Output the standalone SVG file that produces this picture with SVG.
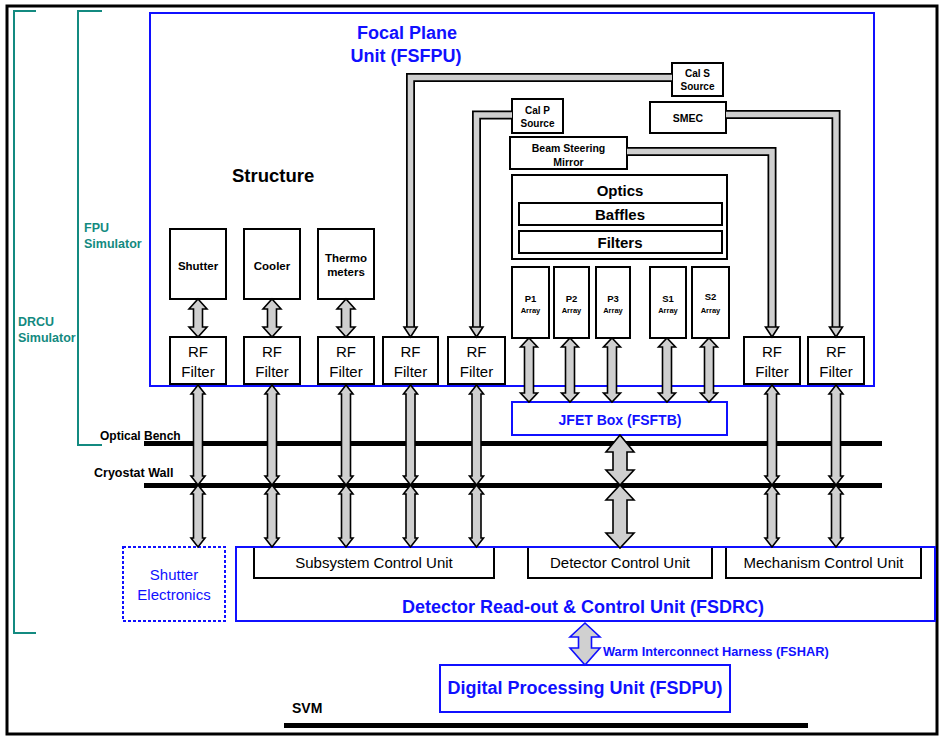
<svg xmlns="http://www.w3.org/2000/svg" xmlns:xlink="http://www.w3.org/1999/xlink" width="944" height="738" viewBox="0 0 944 738">
<style>
text{font-family:"Liberation Sans",Arial,sans-serif;}
.box{fill:#fff;stroke:#000;stroke-width:2;}
.blue{fill:none;stroke:#1010ff;stroke-width:2;}
.bt{fill:#1010ff;font-weight:bold;text-anchor:middle;}
.k{fill:#000;font-weight:bold;text-anchor:middle;}
.n{fill:#000;text-anchor:middle;font-size:15px;}
.teal{fill:none;stroke:#138a80;stroke-width:2;}
.tt{fill:#138a80;font-weight:bold;font-size:12.5px;}
.arr{fill:#cfcfcf;stroke:#000;stroke-width:1.6;stroke-linejoin:miter;}
.po{fill:none;stroke:#000;stroke-width:9;stroke-linejoin:miter;}
.pi{fill:none;stroke:#cfcfcf;stroke-width:5.5;stroke-linejoin:miter;}
.bar{stroke:#000;stroke-width:5;}
</style>
<defs>
<polygon id="aC" class="arr" points="0,299 9,309 4.5,309 4.5,327 9,327 0,337 -9,327 -4.5,327 -4.5,309 -9,309"/>
<polygon id="aA" class="arr" points="0,338 8.5,347 4.5,347 4.5,393 8.5,393 0,402 -8.5,393 -4.5,393 -4.5,347 -8.5,347"/>
<polygon id="aU" class="arr" points="0,385 7,394 4.5,394 4.5,476 7,476 0,485 -7,476 -4.5,476 -4.5,394 -7,394"/>
<polygon id="aL" class="arr" points="0,485 7,494 4.5,494 4.5,538 7,538 0,547 -7,538 -4.5,538 -4.5,494 -7,494"/>
<polygon id="ph" class="arr" points="-6.5,327 6.5,327 0,337"/>
</defs>

<rect x="7" y="6" width="930" height="728" fill="#fff" stroke="#000" stroke-width="3"/>

<g id="brackets">
<path class="teal" d="M36,11 H14 V633 H36"/>
<path class="teal" d="M102,11 H78 V445 H102"/>
<text class="tt" x="84" y="232">FPU</text>
<text class="tt" x="84" y="248">Simulator</text>
<text class="tt" x="18" y="326">DRCU</text>
<text class="tt" x="18" y="342">Simulator</text>
</g>

<g id="walls">
<line class="bar" x1="144" y1="443.5" x2="882" y2="443.5"/>
<line class="bar" x1="144" y1="485.5" x2="882" y2="485.5"/>
<text x="100" y="440" font-size="12" font-weight="bold">Optical Bench</text>
<text x="94" y="477" font-size="12.5" font-weight="bold">Cryostat Wall</text>
<line class="bar" x1="284" y1="725.5" x2="808" y2="725.5"/>
<text x="292" y="713" font-size="14" font-weight="bold">SVM</text>
</g>

<g id="fsfpu">
<text class="bt" x="407" y="39" font-size="18">Focal Plane</text>
<text class="bt" x="406" y="62" font-size="18">Unit (FSFPU)</text>
<text x="232" y="182" font-size="18.5" font-weight="bold">Structure</text>
</g>

<g id="calS"><rect class="box" x="672" y="63" width="51" height="33"/><text class="k" x="697.5" y="77" font-size="10">Cal S</text><text class="k" x="697.5" y="90" font-size="10">Source</text></g>
<g id="smec"><rect class="box" x="650" y="102" width="76" height="31"/><text class="k" x="688" y="122" font-size="10.5">SMEC</text></g>
<g id="calP"><rect class="box" x="512" y="99" width="51" height="34"/><text class="k" x="537.5" y="114" font-size="10">Cal P</text><text class="k" x="537.5" y="127" font-size="10">Source</text></g>
<g id="bsm"><rect class="box" x="510" y="137" width="117" height="32"/><text class="k" x="568.5" y="152" font-size="10.5">Beam Steering</text><text class="k" x="568.5" y="166" font-size="10.5">Mirror</text></g>
<g id="optics"><rect class="box" x="512" y="175" width="215" height="84"/><text class="k" x="620" y="196" font-size="15">Optics</text>
<rect class="box" x="519" y="203" width="203" height="22"/><text class="k" x="620" y="220" font-size="15">Baffles</text>
<rect class="box" x="519" y="231" width="203" height="22"/><text class="k" x="620" y="248" font-size="15">Filters</text></g>

<g id="p1"><rect class="box" x="512" y="267" width="37" height="71"/><text class="k" x="530.5" y="302" font-size="9.5">P1</text><text class="k" x="530.5" y="313" font-size="7.5">Array</text></g>
<g id="p2"><rect class="box" x="554" y="267" width="35" height="71"/><text class="k" x="571.5" y="302" font-size="9.5">P2</text><text class="k" x="571.5" y="313" font-size="7.5">Array</text></g>
<g id="p3"><rect class="box" x="596" y="267" width="34" height="71"/><text class="k" x="613" y="302" font-size="9.5">P3</text><text class="k" x="613" y="313" font-size="7.5">Array</text></g>
<g id="s1"><rect class="box" x="650" y="267" width="36" height="71"/><text class="k" x="668" y="302" font-size="9.5">S1</text><text class="k" x="668" y="313" font-size="7.5">Array</text></g>
<g id="s2"><rect class="box" x="692" y="267" width="37" height="71"/><text class="k" x="710.5" y="300" font-size="9.5">S2</text><text class="k" x="710.5" y="313" font-size="7.5">Array</text></g>

<g id="shutter"><rect class="box" x="170" y="229" width="56" height="70"/><text class="k" x="198" y="270" font-size="11.5">Shutter</text></g>
<g id="cooler"><rect class="box" x="244" y="229" width="56" height="70"/><text class="k" x="272" y="270" font-size="11.5">Cooler</text></g>
<g id="thermo"><rect class="box" x="318" y="229" width="56" height="70"/><text class="k" x="346" y="262" font-size="11.5">Thermo</text><text class="k" x="346" y="276" font-size="11.5">meters</text></g>

<g id="rf1"><rect class="box" x="170" y="337" width="56" height="47"/><text class="n" x="198" y="357">RF</text><text class="n" x="198" y="377">Filter</text></g>
<g id="rf2"><rect class="box" x="244" y="337" width="56" height="47"/><text class="n" x="272" y="357">RF</text><text class="n" x="272" y="377">Filter</text></g>
<g id="rf3"><rect class="box" x="318" y="337" width="56" height="47"/><text class="n" x="346" y="357">RF</text><text class="n" x="346" y="377">Filter</text></g>
<g id="rf4"><rect class="box" x="383" y="337" width="55" height="47"/><text class="n" x="410.5" y="357">RF</text><text class="n" x="410.5" y="377">Filter</text></g>
<g id="rf5"><rect class="box" x="448" y="337" width="57" height="47"/><text class="n" x="476.5" y="357">RF</text><text class="n" x="476.5" y="377">Filter</text></g>
<g id="rf6"><rect class="box" x="744" y="337" width="56" height="47"/><text class="n" x="772" y="357">RF</text><text class="n" x="772" y="377">Filter</text></g>
<g id="rf7"><rect class="box" x="808" y="337" width="56" height="47"/><text class="n" x="836" y="357">RF</text><text class="n" x="836" y="377">Filter</text></g>

<rect id="fsfpuBox" class="blue" x="150" y="13" width="724" height="373"/>

<g id="jfet"><rect class="blue" x="512" y="402" width="215" height="33" fill="#fff"/><text class="bt" x="620" y="425" font-size="14">JFET Box (FSFTB)</text></g>

<g id="shutterElec"><rect x="123" y="547" width="102" height="74" fill="none" stroke="#1010ff" stroke-width="2" stroke-dasharray="3,2"/><text x="174" y="580" fill="#1010ff" font-size="15" text-anchor="middle">Shutter</text><text x="174" y="600" fill="#1010ff" font-size="15" text-anchor="middle">Electronics</text></g>

<g id="fsdrc">
<rect class="box" x="254" y="547" width="240" height="31"/><text class="n" x="374" y="568">Subsystem Control Unit</text>
<rect class="box" x="528" y="547" width="184" height="31"/><text class="n" x="620" y="568">Detector Control Unit</text>
<rect class="box" x="726" y="547" width="195" height="31"/><text class="n" x="823.5" y="568">Mechanism Control Unit</text>
<rect class="blue" x="236" y="547" width="699" height="74"/>
<text class="bt" x="583" y="613" font-size="18">Detector Read-out &amp; Control Unit (FSDRC)</text>
</g>

<g id="fsdpu"><rect class="blue" x="440" y="665" width="290" height="47"/><text class="bt" x="585" y="694" font-size="18">Digital Processing Unit (FSDPU)</text></g>

<g id="connectors">
<path class="po" d="M672,77.5 H410.5 V328"/><path class="pi" d="M672,77.5 H410.5 V328"/>
<path class="po" d="M512,115 H476.5 V328"/><path class="pi" d="M512,115 H476.5 V328"/>
<path class="po" d="M627,151.5 H772 V328"/><path class="pi" d="M627,151.5 H772 V328"/>
<path class="po" d="M726,114.5 H836 V328"/><path class="pi" d="M726,114.5 H836 V328"/>
<use xlink:href="#ph" x="410.5"/><use xlink:href="#ph" x="476.5"/><use xlink:href="#ph" x="772"/><use xlink:href="#ph" x="836"/>
<use xlink:href="#aC" x="198"/><use xlink:href="#aC" x="272"/><use xlink:href="#aC" x="346"/>
<use xlink:href="#aA" x="529"/><use xlink:href="#aA" x="570"/><use xlink:href="#aA" x="612"/><use xlink:href="#aA" x="667"/><use xlink:href="#aA" x="709"/>
<use xlink:href="#aU" x="198"/><use xlink:href="#aU" x="272"/><use xlink:href="#aU" x="346"/><use xlink:href="#aU" x="410.5"/><use xlink:href="#aU" x="476.5"/><use xlink:href="#aU" x="772"/><use xlink:href="#aU" x="836"/>
<use xlink:href="#aL" x="198"/><use xlink:href="#aL" x="272"/><use xlink:href="#aL" x="346"/><use xlink:href="#aL" x="410.5"/><use xlink:href="#aL" x="476.5"/><use xlink:href="#aL" x="772"/><use xlink:href="#aL" x="836"/>
<polygon class="arr" points="620,435 634,452 627,452 627,470 634,470 620,485 606,470 613,470 613,452 606,452"/>
<polygon class="arr" points="620,485 634,500 627,500 627,533 634,533 620,548 606,533 613,533 613,500 606,500"/>
<polygon points="585,623 600,637 591.5,637 591.5,648 600,648 585,665 570,648 578.5,648 578.5,637 570,637" fill="#d0d0d0" stroke="#1010ff" stroke-width="1.6"/>
<text x="603" y="656" fill="#1010ff" font-size="12.8" font-weight="bold">Warm Interconnect Harness (FSHAR)</text>
</g>
</svg>
